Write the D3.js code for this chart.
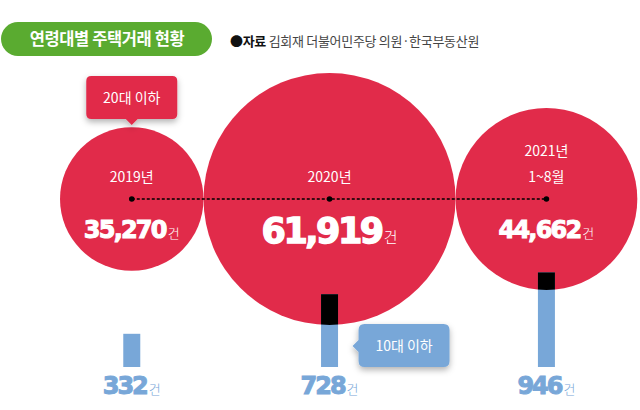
<!DOCTYPE html>
<html><head><meta charset="utf-8">
<script src="https://cdn.jsdelivr.net/npm/d3@7"></script>
<style>
html,body{margin:0;padding:0;background:#fff;}
svg{display:block;}
</style></head>
<body>
<svg id="chart" width="640" height="410"></svg>
<script>
// ---- data ----
const years = ["2019년", "2020년", "2021년"];
const yearSub = ["", "", "1~8월"];
const under20 = [35270, 61919, 44662];
const under10 = [332, 728, 946];
const unit = "건";
const title = "연령대별 주택거래 현황";
const sourceBold = "●자료";
const sourceText = " 김회재 더불어민주당 의원·한국부동산원";
const calloutRed = "20대 이하";
const calloutBlue = "10대 이하";

// ---- style ----
const RED = "#e12b4a", BLUE = "#78a7d8", GREEN = "#5aab30";
const KR = "'Noto Sans CJK KR','Noto Sans',sans-serif";
const NUM = "'DejaVu Sans',sans-serif";

const svg = d3.select("#chart");
const defs = svg.append("defs");
const f = defs.append("filter").attr("id","shadow").attr("x","-30%").attr("y","-30%").attr("width","160%").attr("height","180%");
f.append("feDropShadow").attr("dx",0).attr("dy",3).attr("stdDeviation",3).attr("flood-color","#000").attr("flood-opacity",0.3);

// scales
const rScale = d3.scaleLinear().domain([0, d3.max(under20)]).range([0, 126]);
const hScale = d3.scaleLinear().domain([0, 1000]).range([0, 100]);
const cy = 199, baseY = 367, leftEdge = 60;

// pack circles side by side
const cx = [];
under20.forEach((v, i) => {
  const r = rScale(v);
  if (i === 0) cx.push(leftEdge + r);
  else cx.push(cx[i-1] + rScale(under20[i-1]) + r);
});
const data = years.map((y, i) => ({year: y, sub: yearSub[i], v20: under20[i], v10: under10[i], x: cx[i], r: rScale(under20[i])}));

// title
svg.append("rect").attr("x", 1).attr("y", 22).attr("width", 211).attr("height", 34).attr("rx", 17).attr("fill", GREEN);
svg.append("text").attr("x", 107).attr("y", 45).attr("text-anchor","middle")
  .attr("font-family", KR).attr("font-weight", 700).attr("font-size", 16.5).attr("letter-spacing", -0.4)
  .attr("fill", "#fff").text(title);
const src = svg.append("text").attr("x", 230).attr("y", 46).attr("font-family", KR).attr("font-size", 13).attr("fill", "#444").attr("letter-spacing", -0.3);
src.append("tspan").attr("font-weight", 700).attr("fill", "#111").text(sourceBold);
src.append("tspan").text(sourceText);

// circles
data.forEach((d, i) => {
  defs.append("clipPath").attr("id", "clip" + i).append("circle").attr("cx", d.x).attr("cy", cy).attr("r", d.r);
});
svg.selectAll("circle.big").data(data).join("circle").attr("class","big")
  .attr("cx", d => d.x).attr("cy", cy).attr("r", d => d.r).attr("fill", RED);

// bars
svg.selectAll("rect.bar").data(data).join("rect").attr("class","bar")
  .attr("x", d => d.x - 8.5).attr("width", 17)
  .attr("y", d => baseY - hScale(d.v10)).attr("height", d => hScale(d.v10)).attr("fill", BLUE);
data.forEach((d, i) => {
  svg.append("rect").attr("clip-path", `url(#clip${i})`)
    .attr("x", d.x - 8.5).attr("width", 17)
    .attr("y", baseY - hScale(d.v10)).attr("height", hScale(d.v10)).attr("fill", "#000");
});

// dotted line
svg.append("line").attr("x1", cx[0]).attr("x2", cx[cx.length-1]).attr("y1", cy).attr("y2", cy)
  .attr("stroke", "#000").attr("stroke-width", 1.5).attr("stroke-dasharray", "3,2");
svg.selectAll("circle.dot").data(data).join("circle").attr("class","dot")
  .attr("cx", d => d.x).attr("cy", cy).attr("r", 2.8).attr("fill", "#000");

const fmt = d3.format(",");
// year labels
data.forEach(d => {
  const lbl = (y, s) => svg.append("text").attr("x", d.x).attr("y", y).attr("text-anchor","middle").attr("font-family", KR).attr("font-size", 14).attr("font-weight", 400).attr("fill","#fff").text(s);
  if (d.sub) { lbl(156, d.year); lbl(182, d.sub); }
  else lbl(182, d.year);
  const big = d.v20 === d3.max(under20);
  const t = svg.append("text").attr("x", d.x).attr("y", big ? 243 : 238).attr("text-anchor","middle").attr("fill","#fff");
  t.append("tspan").attr("font-family", NUM).attr("font-weight", 700).attr("font-size", big ? 35 : 24)
    .attr("letter-spacing", big ? -2.5 : -1.8).attr("stroke", "#fff").attr("stroke-width", big ? 1.4 : 1).text(fmt(d.v20));
  t.append("tspan").attr("font-family", KR).attr("font-size", big ? 15 : 13).attr("font-weight", 300).attr("dx", 2).text(unit);
  // bottom labels
  const b = svg.append("text").attr("x", d.x).attr("y", 394).attr("text-anchor","middle").attr("fill", BLUE);
  b.append("tspan").attr("font-family", NUM).attr("font-weight", 700).attr("font-size", 24).attr("letter-spacing", -2)
    .attr("stroke", BLUE).attr("stroke-width", 1).text(fmt(d.v10));
  b.append("tspan").attr("font-family", KR).attr("font-size", 13).attr("font-weight", 300).attr("dx", 2).text(unit);
});

// callout: 20대 이하 (above first circle)
const c0 = data[0];
const g1 = svg.append("g").attr("filter", "url(#shadow)");
g1.append("path").attr("fill", RED).attr("d", () => {
  const x0 = c0.x - 45.5, x1 = c0.x + 45.5, y0 = 76, y1 = 119, r = 5;
  return `M${x0+r},${y0} H${x1-r} Q${x1},${y0} ${x1},${y0+r} V${y1-r} Q${x1},${y1} ${x1-r},${y1} H${c0.x+6} L${c0.x},${y1+6} L${c0.x-6},${y1} H${x0+r} Q${x0},${y1} ${x0},${y1-r} V${y0+r} Q${x0},${y0} ${x0+r},${y0} Z`;
});
svg.append("text").attr("x", c0.x).attr("y", 103).attr("text-anchor","middle").attr("font-family", KR).attr("font-size", 14).attr("font-weight", 400).attr("fill","#fff").text(calloutRed);

// callout: 10대 이하 (right of second bar)
const c1 = data[1];
const bx0 = c1.x + 29, bx1 = c1.x + 120, by0 = 324, by1 = 367, br = 6, tipY = 346;
const g2 = svg.append("g").attr("filter", "url(#shadow)");
g2.append("path").attr("fill", BLUE).attr("d",
  `M${bx0+br},${by0} H${bx1-br} Q${bx1},${by0} ${bx1},${by0+br} V${by1-br} Q${bx1},${by1} ${bx1-br},${by1} H${bx0+br} Q${bx0},${by1} ${bx0},${by1-br} V${tipY+6} L${bx0-6},${tipY} L${bx0},${tipY-6} V${by0+br} Q${bx0},${by0} ${bx0+br},${by0} Z`);
svg.append("text").attr("x", (bx0+bx1)/2).attr("y", 351).attr("text-anchor","middle").attr("font-family", KR).attr("font-size", 14).attr("font-weight", 400).attr("fill","#fff").text(calloutBlue);
</script>
</body></html>
